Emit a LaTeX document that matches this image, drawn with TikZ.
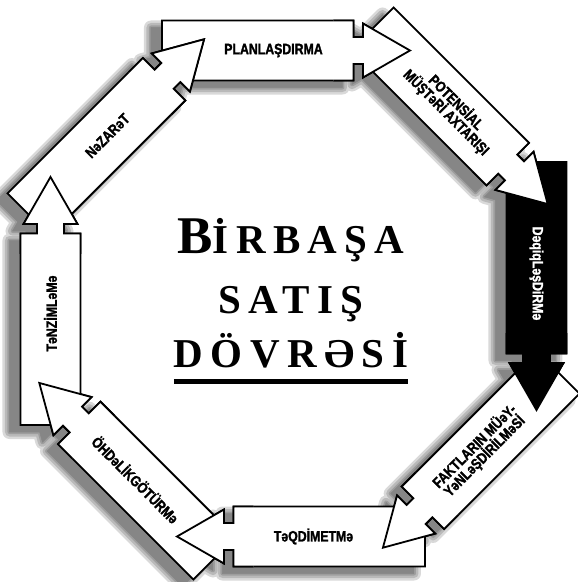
\documentclass[tikz,border=0pt]{standalone}
\usepackage{fontspec}
\newfontfamily\stagefont[FakeStretch=0.82, BoldFeatures={FakeBold=1.6}]{Liberation Sans}
\newfontfamily\titlefont[LetterSpace=18]{Liberation Serif}
\usetikzlibrary{calc}

% one arrow of the cycle, drawn along +x, centre line on y=0
\newcommand{\stageoutline}{(-131.5,-30) -- (-131.5,30) -- (60,30) -- (60,13.5) -- (69.5,13.5) -- (69.5,27) -- (116.5,0) -- (69.5,-27) -- (69.5,-13.5) -- (60,-13.5) -- (60,-30) -- cycle}

\begin{document}
\begin{tikzpicture}[
    x=1pt, y=1pt,
    stage/.style={draw=black, line width=1.8pt, line join=miter},
    stagetext/.style={
      font=\stagefont\bfseries\fontsize{15}{14}\selectfont,
      align=center, inner sep=0pt
    },
    titletext/.style={
      font=\titlefont\bfseries\fontsize{41}{41}\selectfont,
      inner sep=0pt, anchor=base
    }
]
\useasboundingbox (-293.5,-288.5) rectangle (284.5,293.5);

% Shadows
\foreach \w in {14,9,4,0.5}{
  \begin{scope}[transparency group, opacity=0.15, shift={(-11,-7)}]
    \foreach \ang in {0,-45,-90,-135,180,135,90,45}
      \filldraw[black, line width=\w pt, line join=round, rotate=\ang, shift={(0,243)}] \stageoutline;
  \end{scope}
}

% Arrows and their labels
\foreach \ang/\fillc/\txtc/\rot/\name/\txt in {
    0/white/black/0/plan/PLANLAŞDIRMA,
    -45/white/black/0/prospect/{POTENSİAL\\MÜŞTəRİ AXTARIŞI},
    -90/black/white/0/refine/DəqiqLəşDiRMə,
    -135/white/black/180/facts/{FAKTLARIN MÜəY-\\YəNLəŞDİRİLMəSİ},
    180/white/black/180/present/TəQDİMETMə,
    135/white/black/180/commit/ÖHDəLİKGÖTÜRMə,
    90/white/black/0/regulate/TəNZİMLəMə,
    45/white/black/0/control/NəZARəT}{
  \begin{scope}[rotate=\ang, shift={(0,243)}]
    \filldraw[stage, fill=\fillc] \stageoutline;
    \node[stagetext, text=\txtc, rotate=\ang+\rot] (\name) at (-20,0) {\txt};
  \end{scope}
}

% Front end of every arrow again, over the tail of the next one
\foreach \ang/\fillc in {0/white,-45/white,-90/black,-135/white,180/white,135/white,90/white,45/white}{
  \begin{scope}[rotate=\ang, shift={(0,243)}]
    \clip (40,-40) rectangle (125,40);
    \filldraw[stage, fill=\fillc] \stageoutline;
  \end{scope}
}

% Title
\node[titletext] (line1) at (-2.5,40.5) {{\fontsize{53}{53}\selectfont B}İRBAŞA};
\node[titletext] (line2) at (-2.5,-19.5) {SATIŞ};
\node[titletext] (line3) at (-2.5,-73.5) {DÖVRƏSİ};
\draw[line width=4.5pt] ([yshift=-14.5pt]line3.base west) -- ([yshift=-14.5pt]line3.base east);

\end{tikzpicture}
\end{document}
